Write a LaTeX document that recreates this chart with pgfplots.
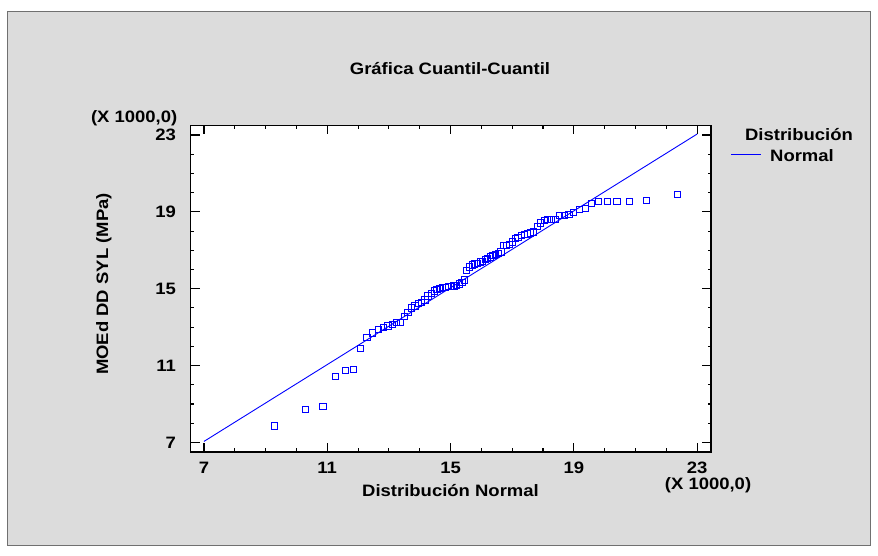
\documentclass[border=0pt]{standalone}
\usepackage{fontspec}
\setmainfont{Liberation Sans}[FakeStretch=1.12]
\usepackage{pgfplots}
\pgfplotsset{compat=1.18}
\definecolor{bg}{HTML}{DCDCDC}
\definecolor{frm}{HTML}{707070}
\definecolor{pblue}{RGB}{0,0,255}
\pgfplotstableread{
x y
9.30 7.85
10.30 8.72
10.86 8.86
11.26 10.44
11.58 10.75
11.85 10.81
12.08 11.90
12.29 12.46
12.48 12.69
12.66 12.89
12.82 12.99
12.97 13.06
13.12 13.15
13.25 13.25
13.38 13.26
13.51 13.54
13.62 13.76
13.74 14.00
13.85 14.10
13.96 14.24
14.07 14.29
14.17 14.41
14.27 14.62
14.37 14.76
14.47 14.88
14.56 14.96
14.66 15.03
14.75 15.06
14.84 15.08
14.93 15.10
15.02 15.12
15.11 15.14
15.19 15.16
15.28 15.24
15.37 15.32
15.45 15.45
15.53 15.95
15.62 16.13
15.70 16.23
15.79 16.29
15.87 16.33
15.96 16.39
16.04 16.42
16.13 16.51
16.21 16.59
16.29 16.65
16.38 16.71
16.47 16.76
16.55 16.83
16.64 16.91
16.73 17.23
16.82 17.26
16.91 17.30
17.00 17.43
17.10 17.62
17.19 17.66
17.29 17.75
17.39 17.82
17.49 17.85
17.59 17.90
17.70 17.95
17.81 18.23
17.92 18.42
18.04 18.55
18.15 18.60
18.28 18.61
18.41 18.62
18.54 18.81
18.69 18.83
18.84 18.87
19.00 18.96
19.18 19.13
19.37 19.18
19.58 19.44
19.81 19.52
20.08 19.53
20.40 19.54
20.80 19.55
21.36 19.61
22.36 19.89
}\qqdata
\begin{document}
\fontsize{16.5pt}{19pt}\selectfont\bfseries
\begin{tikzpicture}[x=1pt,y=1pt]
\useasboundingbox (0,0) rectangle (878,556);
\fill[white] (0,0) rectangle (878,556);
\filldraw[fill=bg, draw=frm, line width=1pt] (7.5,10) rectangle (870.5,544);
\begin{axis}[
  at={(190.7pt,104pt)}, anchor=south west,
  scale only axis, width=520.3pt, height=326.6pt,
  xmin=6.57, xmax=23.45, ymin=6.5, ymax=23.5,
  axis background/.style={fill=white},
  axis line style={line width=1.3pt, black},
  xtick={7,11,15,19,23}, ytick={7,11,15,19,23},
  minor tick num=3,
  tick align=inside,
  major tick length=9pt, minor tick length=3.5pt,
  every tick/.append style={black, line width=1.1pt},
  every minor tick/.append style={black, line width=1.1pt},
  tick label style={font=\fontsize{16.5pt}{19pt}\selectfont\bfseries},
  /pgf/number format/assume math mode=true,
  yticklabel style={anchor=east, inner sep=0pt, xshift=-14.5pt},
  xticklabel style={anchor=north, inner sep=0pt, yshift=-9.5pt},
]
\addplot[color=pblue, draw=pblue, line width=0.9pt] coordinates {(7,7.05) (23,23.05)};
\addplot[only marks, color=pblue, draw=pblue, fill=none, mark=square, mark size=3.1pt, mark options={draw=pblue, fill=none, line width=1.0pt}] table[x=x, y=y] {\qqdata};
\end{axis}
\node[anchor=base, inner sep=0pt] at (450,481.3) {Gráfica Cuantil-Cuantil};
\node[anchor=base east, inner sep=0pt] at (177.5,433) {(X 1000,0)};
\node[anchor=base, inner sep=0pt] at (450.5,59.3) {Distribución Normal};
\node[anchor=base west, inner sep=0pt] at (664.7,66) {(X 1000,0)};
\node[rotate=90, anchor=base, inner sep=0pt] at (108,272) {MOEd DD SYL (MPa)};
\node[anchor=base, inner sep=0pt] at (799,415) {Distribución};
\node[anchor=base, inner sep=0pt] at (802,394.3) {Normal};
\draw[pblue, line width=0.9pt] (731,401.7) -- (761,401.7);
\end{tikzpicture}
\end{document}
